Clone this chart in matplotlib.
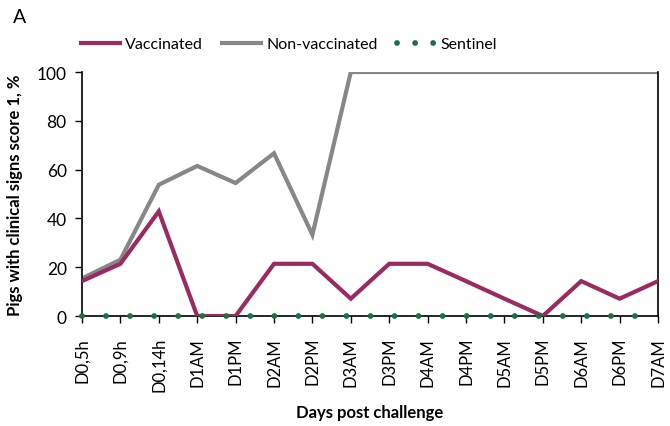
import numpy as np
import matplotlib
matplotlib.use("Agg")
from matplotlib import pyplot as plt
from matplotlib.lines import Line2D

days = ["D0,5h", "D0,9h", "D0,14h", "D1AM", "D1PM", "D2AM", "D2PM", "D3AM",
        "D3PM", "D4AM", "D4PM", "D5AM", "D5PM", "D6AM", "D6PM", "D7AM"]
vaccinated = [14.3, 21.4, 42.9, 0, 0, 21.4, 21.4, 7.1,
              21.4, 21.4, 14.3, 7.1, 0, 14.3, 7.1, 14.3]
non_vaccinated = [15.4, 23.1, 53.8, 61.5, 54.5, 66.7, 33.3, 100,
                  100, 100, 100, 100, 100, 100, 100, 100]
sentinel = [0] * len(days)

plt.rcParams['font.family'] = ['Lato', 'DejaVu Sans']
plt.rcParams['lines.scale_dashes'] = False

fig = plt.figure(figsize=(6.70, 4.27), dpi=100)
ax = fig.add_axes([0.1224, 0.2576, 0.8597, 0.5714])

green = '#1f6e44'
x = np.arange(len(days))
ax.plot(x, sentinel, color=green, lw=4.2, linestyle=(0, (0.01, 17.3)),
        dash_capstyle='round', zorder=4, clip_on=False)
ax.plot(x, vaccinated, color='#9a2a5f', lw=3.0, zorder=3,
        solid_joinstyle='miter')
ax.plot(x, non_vaccinated, color='#878787', lw=3.0,
        zorder=2, solid_joinstyle='miter')

ax.set_xlim(0, len(days) - 1)
ax.set_ylim(0, 100)
ax.set_yticks([0, 20, 40, 60, 80, 100])
ax.set_xticks(x, days, rotation=90)
ax.tick_params(axis='y', labelsize=12.5, direction='out', length=5,
               width=1, color='black', pad=6)
ax.tick_params(axis='x', labelsize=12, direction='out', length=5,
               width=1, color='black', pad=10)
ax.spines['top'].set_visible(False)
for s in ['left', 'bottom', 'right']:
    ax.spines[s].set_linewidth(1.2)

ax.set_ylabel('Pigs with clinical signs score 1, %', fontsize=12,
              fontweight='bold', labelpad=10)
ax.set_xlabel('Days post challenge', fontsize=12, fontweight='bold',
              labelpad=9)

# legend handles (sentinel dots packed tighter so three fit)
handles = [
    Line2D([], [], color='#9a2a5f', lw=3.0),
    Line2D([], [], color='#878787', lw=3.0),
    Line2D([], [], color=green, lw=4.2, linestyle=(0, (0.01, 13.0)),
           dash_capstyle='round'),
]
labels = ['Vaccinated', 'Non-vaccinated', 'Sentinel']
ax.legend(handles, labels, loc='lower center', bbox_to_anchor=(0.36, 1.0),
          ncols=3, frameon=False, fontsize=11.5, handlelength=2.4,
          handletextpad=0.35, columnspacing=1.2, borderaxespad=0.9)

fig.text(0.019, 0.945, 'A', fontsize=14)

fig.savefig('out.png', dpi=100)
